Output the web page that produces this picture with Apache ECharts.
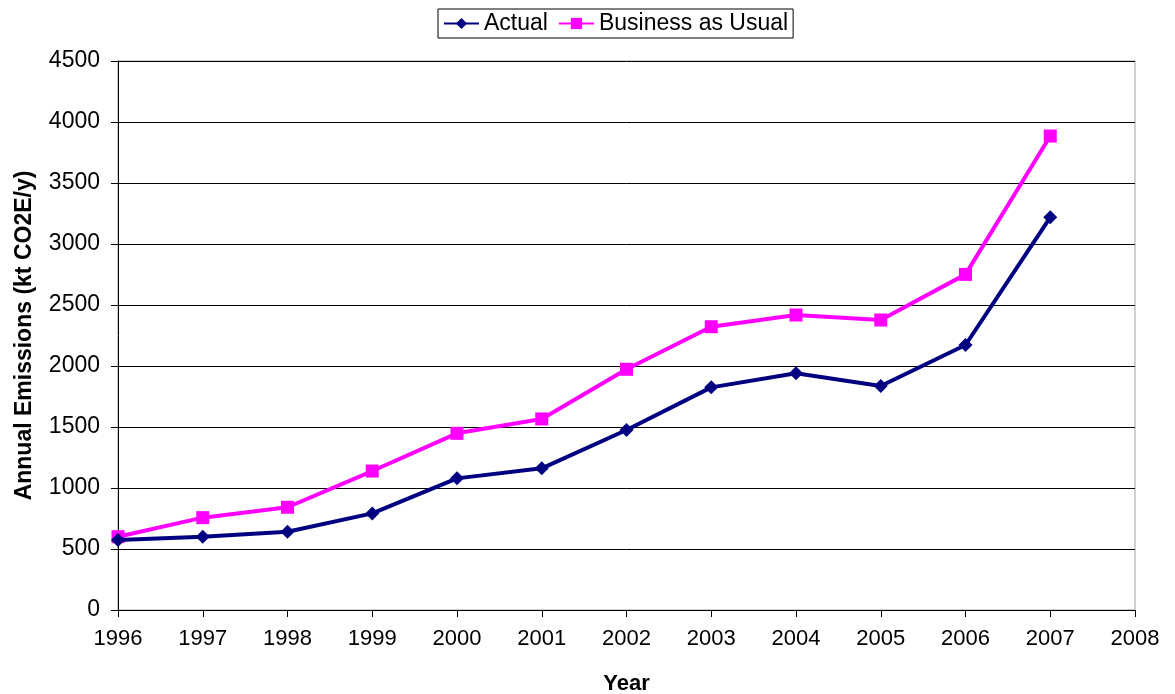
<!DOCTYPE html>
<html>
<head>
<meta charset="utf-8">
<script src="https://cdn.jsdelivr.net/npm/echarts@6/dist/echarts.min.js"></script>
<style>
  html, body { margin: 0; padding: 0; background: #fff; }
  #chart { width: 1175px; height: 694px; }
</style>
</head>
<body>
<div id="chart"></div>
<script>
// Annual emissions, kt CO2E per year
const years = [1996, 1997, 1998, 1999, 2000, 2001, 2002, 2003, 2004, 2005, 2006, 2007];
const actual = [574, 601, 642, 792, 1079, 1161, 1475, 1825, 1940, 1836, 2172, 3219];
const businessAsUsual = [601, 757, 842, 1139, 1448, 1566, 1973, 2322, 2418, 2377, 2751, 3885];

const FONT = '"Liberation Sans", Arial, sans-serif';

const chart = echarts.init(document.getElementById('chart'), null, { renderer: 'canvas' });

const pairs = (ys) => years.map((y, i) => [y, ys[i]]);

chart.setOption({
  animation: false,
  backgroundColor: '#ffffff',
  textStyle: { fontFamily: FONT },
  legend: {
    top: 9,
    left: 438,
    borderColor: '#000',
    borderWidth: 1,
    borderRadius: 0,
    padding: [3, 5, 3, 5],
    itemGap: 10,
    itemWidth: 35,
    itemHeight: 14,
    textStyle: { fontFamily: FONT, fontSize: 23, color: '#000' },
    data: ['Actual', 'Business as Usual']
  },
  grid: {
    left: 118,
    right: 40,
    top: 61,
    bottom: 84,
    show: true,
    borderColor: '#a0a0a0',
    borderWidth: 1,
    containLabel: false,
    outerBoundsMode: 'none'
  },
  xAxis: {
    type: 'value',
    min: 1996,
    max: 2008,
    interval: 1,
    name: 'Year',
    nameLocation: 'middle',
    nameGap: 63,
    nameTextStyle: { fontFamily: FONT, fontSize: 22, fontWeight: 'bold', color: '#000' },
    axisLine: { show: true, lineStyle: { color: '#000', width: 1 } },
    axisTick: { show: true, length: 7, lineStyle: { color: '#000' } },
    axisLabel: {
      margin: 18,
      fontFamily: FONT, fontSize: 22, color: '#000',
      formatter: (v) => String(v)
    },
    splitLine: { show: false }
  },
  yAxis: {
    type: 'value',
    min: 0,
    max: 4500,
    interval: 500,
    name: 'Annual Emissions (kt CO2E/y)',
    nameLocation: 'middle',
    nameGap: 82,
    nameTextStyle: { fontFamily: FONT, fontSize: 23, fontWeight: 'bold', color: '#000' },
    axisLine: { show: true, lineStyle: { color: '#000', width: 1 } },
    axisTick: { show: true, length: 7, lineStyle: { color: '#000' } },
    axisLabel: {
      margin: 18,
      fontFamily: FONT, fontSize: 23, color: '#000',
      formatter: (v) => String(v)
    },
    splitLine: { show: true, lineStyle: { color: '#000', width: 1 } }
  },
  series: [
    {
      name: 'Actual',
      type: 'line',
      data: pairs(actual),
      symbol: 'diamond',
      symbolSize: 14,
      lineStyle: { color: '#000080', width: 4 },
      itemStyle: { color: '#000080' },
      z: 3
    },
    {
      name: 'Business as Usual',
      type: 'line',
      data: pairs(businessAsUsual),
      symbol: 'rect',
      symbolSize: 13,
      lineStyle: { color: '#ff00ff', width: 4 },
      itemStyle: { color: '#ff00ff' },
      z: 2
    }
  ]
});
</script>
</body>
</html>
